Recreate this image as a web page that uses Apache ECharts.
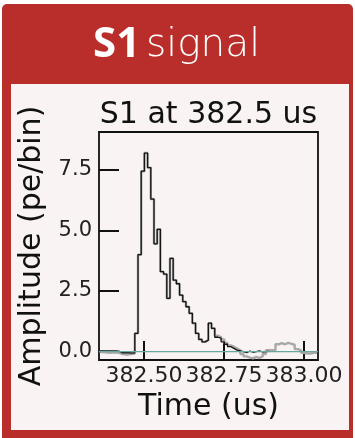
<!DOCTYPE html>
<html>
<head>
<meta charset="utf-8">
<script src="https://cdn.jsdelivr.net/npm/echarts@6/dist/echarts.min.js"></script>
<style>
  html, body { margin: 0; padding: 0; background: #ffffff; }
  #chart { width: 355px; height: 438px; }
</style>
</head>
<body>
<div id="chart"></div>
<script>
// Sampling of the summed PMT waveform: 10 ns bins
const binStart = 382.361;   // us, left edge of the first bin
const binWidth = 0.01;      // us

// Main S1 waveform (pe/bin), one value per bin
const mainWave = [
  0.03, 0.03, 0.03, 0.03, 0.03, 0.02, -0.05, -0.05, -0.05, -0.06, -0.05,
  0.75, 4.0, 7.45, 8.2, 7.6, 6.3, 4.45, 5.05, 3.3, 3.2,
  2.2, 3.85, 2.95, 2.8, 2.33, 2.06, 1.85, 1.58, 1.17, 0.75,
  0.5, 0.4, 0.47, 1.17, 0.96, 0.59, 0.55, 0.4, 0.3, 0.2,
  0.13, 0.06, 0.03, 0.0, -0.05, 0.02, -0.03, 0.0, 0.03, -0.02,
  0.0, 0.01
];

// Secondary waveform drawn underneath in grey (pe/bin)
const altWave = [
  -0.02, -0.03, -0.05, -0.04, -0.03, -0.05, -0.1, -0.12, -0.12, -0.1, -0.08,
  0.75, 4.0, 7.45, 8.2, 7.6, 6.3, 4.45, 5.05, 3.3, 3.2,
  2.2, 3.85, 2.95, 2.8, 2.33, 2.06, 1.85, 1.58, 1.17, 0.75,
  0.5, 0.4, 0.47, 1.17, 0.96, 0.65, 0.6, 0.5, 0.35, 0.25,
  0.2, 0.12, 0.05, -0.1, -0.2, -0.25, -0.28, -0.22, -0.27, -0.2,
  -0.1, 0.05, 0.05, 0.05, 0.3, 0.35, 0.3, 0.36, 0.32, 0.28,
  0.1, 0.05, -0.05, -0.08, -0.08, -0.05, -0.05
];

const baselineLevel = 0.0;

// Axis ranges and ticks
const xRange = [382.359, 383.044];
const yRange = [-0.35, 9.07];
const xTicks = [382.5, 382.75, 383.0];
const yTicks = [0.0, 2.5, 5.0, 7.5];

const headerBold = 'S1';
const headerLight = 'signal';
const plotTitle = 'S1 at 382.5 us';
const xName = 'Time (us)';
const yName = 'Amplitude (pe/bin)';

// Turn per-bin values into step points (bin start, value) with a closing edge
function toSteps(values) {
  const pts = values.map((v, i) => [binStart + i * binWidth, v]);
  const n = values.length;
  pts.push([binStart + n * binWidth, values[n - 1]]);
  return pts;
}

const RED = '#b92d2a';
const PANEL = '#f9f3f3';
const AX_FONT = 'DejaVu Sans';

const chart = echarts.init(document.getElementById('chart'), null, { renderer: 'canvas' });

chart.setOption({
  animation: false,
  backgroundColor: '#ffffff',
  graphic: [
    { type: 'rect', z: -10, shape: { x: 2, y: 4, width: 351, height: 434, r: [5, 5, 0, 0] },
      style: { fill: RED } },
    { type: 'rect', z: -9, shape: { x: 11, y: 84, width: 338, height: 346 },
      style: { fill: PANEL } },
    { type: 'text', z: 10, x: 93, y: 45,
      style: { text: headerBold, fill: '#ffffff', font: 'bold 42px "Open Sans"',
               align: 'left', verticalAlign: 'middle' } },
    { type: 'text', z: 10, x: 146, y: 46,
      style: { text: headerLight, fill: '#ffffff', font: '200 39px "DejaVu Sans"',
               align: 'left', verticalAlign: 'middle' } },
    { type: 'text', z: 10, x: 208.5, y: 115,
      style: { text: plotTitle, fill: '#111111', font: '30px "' + AX_FONT + '"',
               align: 'center', verticalAlign: 'middle' } }
  ],
  grid: {
    left: 99, top: 132, right: 37, bottom: 78,
    show: true, borderColor: '#111111', borderWidth: 1.8, backgroundColor: PANEL
  },
  xAxis: {
    type: 'value', min: xRange[0], max: xRange[1],
    name: xName, nameLocation: 'middle', nameGap: 31,
    nameTextStyle: { fontFamily: AX_FONT, fontSize: 30, color: '#111111' },
    axisLine: { show: false, onZero: false },
    splitLine: { show: false },
    axisTick: { show: true, inside: true, length: 19, customValues: xTicks,
                lineStyle: { color: '#111111', width: 2 } },
    axisLabel: { customValues: xTicks, margin: 5, fontFamily: AX_FONT, fontSize: 22,
                 color: '#222222', formatter: v => v.toFixed(2), hideOverlap: false }
  },
  yAxis: {
    type: 'value', min: yRange[0], max: yRange[1],
    name: yName, nameLocation: 'middle', nameRotate: 90, nameGap: 49,
    nameTextStyle: { fontFamily: AX_FONT, fontSize: 30, color: '#111111' },
    axisLine: { show: false, onZero: false },
    splitLine: { show: false },
    axisTick: { show: true, inside: true, length: 20, customValues: yTicks,
                lineStyle: { color: '#111111', width: 2 } },
    axisLabel: { customValues: yTicks, margin: 7, fontFamily: AX_FONT, fontSize: 21,
                 color: '#222222', formatter: v => v.toFixed(1) }
  },
  series: [
    {
      name: 'alt', type: 'line', step: 'end', symbol: 'none', z: 2,
      data: toSteps(altWave),
      lineStyle: { color: '#a8a8a8', width: 2.4 }
    },
    {
      name: 'main', type: 'line', step: 'end', symbol: 'none', z: 3,
      data: toSteps(mainWave),
      lineStyle: { color: '#151515', width: 1.3 }
    },
    {
      name: 'baseline', type: 'line', symbol: 'none', z: 4,
      data: [[xRange[0], baselineLevel], [xRange[1], baselineLevel]],
      lineStyle: { color: '#6aa7a0', width: 1.2 }
    }
  ]
});
</script>
</body>
</html>
